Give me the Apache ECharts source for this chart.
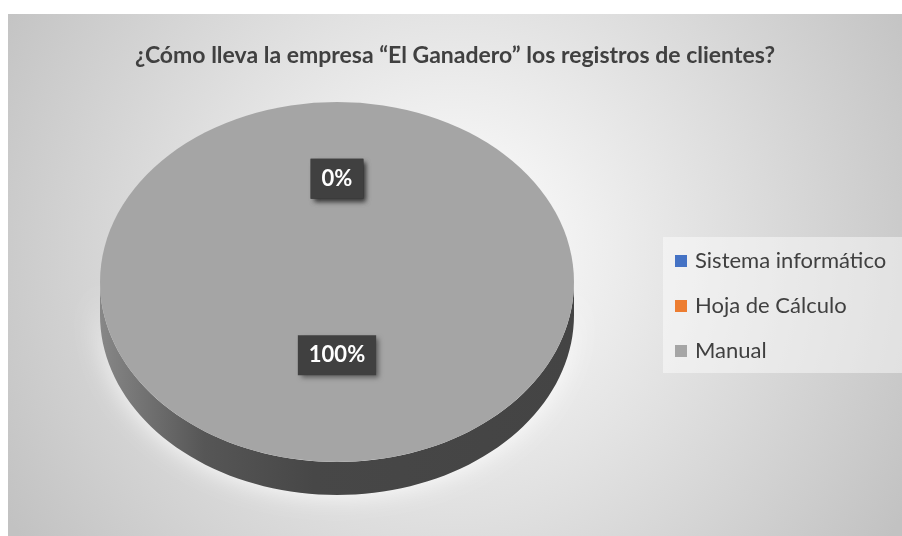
<!DOCTYPE html>
<html>
<head>
<meta charset="utf-8">
<script src="https://cdn.jsdelivr.net/npm/echarts@6/dist/echarts.min.js"></script>
<style>
  html, body { margin:0; padding:0; background:#ffffff; }
  #chart { position:absolute; left:8px; top:14px; width:894px; height:522px; }
</style>
</head>
<body>
<div id="chart"></div>
<script>
// ---- data ----
var titleText = '¿Cómo lleva la empresa “El Ganadero” los registros de clientes?';
var categories = ['Sistema informático', 'Hoja de Cálculo', 'Manual'];
var values = [0, 0, 100];
var colors = ['#4472c4', '#ed7d31', '#a5a5a5'];

// ---- layout ----
var CX = 329, CY = 268, RX = 237, RY = 180, DEPTH = 33;
var FONT = 'Lato, "Open Sans", sans-serif';

var total = values.reduce(function (a, b) { return a + b; }, 0);
var cum = [];
(function () { var s = 0; for (var i = 0; i < values.length; i++) { cum.push(s); s += values[i]; } })();

function shade(hex, f) {
  var n = parseInt(hex.slice(1), 16);
  var r = Math.round(((n >> 16) & 255) * f), g = Math.round(((n >> 8) & 255) * f), b = Math.round((n & 255) * f);
  return 'rgb(' + r + ',' + g + ',' + b + ')';
}

function makeRender(i) {
  return function (params, api) {
    var v = api.value(0);
    var a0 = -Math.PI / 2 + (cum[i] / total) * Math.PI * 2;
    var a1 = -Math.PI / 2 + ((cum[i] + v) / total) * Math.PI * 2;
    var children = [];
    var col = colors[i];
    if (a1 > a0) {
      // front side wall
      var s0 = Math.max(a0, 0), s1 = Math.min(a1, Math.PI);
      if (s1 > s0) {
        var pts = [], N = 80, k;
        for (k = 0; k <= N; k++) {
          var a = s0 + (s1 - s0) * k / N;
          pts.push([CX + RX * Math.cos(a), CY + RY * Math.sin(a)]);
        }
        for (k = N; k >= 0; k--) {
          var b = s0 + (s1 - s0) * k / N;
          pts.push([CX + RX * Math.cos(b), CY + RY * Math.sin(b) + DEPTH]);
        }
        children.push({
          type: 'polygon', z2: 1,
          shape: { points: pts },
          style: {
            fill: new echarts.graphic.LinearGradient(0, 0, 1, 0, [
              { offset: 0, color: shade(col, 0.82) },
              { offset: 0.22, color: shade(col, 0.52) },
              { offset: 0.45, color: shade(col, 0.43) },
              { offset: 1, color: shade(col, 0.41) }
            ]),
            shadowColor: 'rgba(255,255,255,0.95)', shadowBlur: 26
          }
        });
      }
      // top face
      children.push({
        type: 'sector', z2: 2,
        shape: { cx: CX, cy: CY, r0: 0, r: RX, startAngle: a0, endAngle: a1, clockwise: true },
        scaleY: RY / RX, originX: CX, originY: CY,
        style: { fill: col }
      });
    }
    // label
    var m = (a0 + a1) / 2;
    var pct = Math.round(v / total * 100) + '%';
    children.push({
      type: 'text', z2: 3 + i,
      x: CX + 0.49 * RX * Math.cos(m), y: CY + 0.49 * RY * Math.sin(m) - 15,
      style: {
        text: pct, fill: '#ffffff', font: 'bold 22px ' + FONT,
        align: 'center', verticalAlign: 'middle',
        backgroundColor: '#404040', padding: [9, 11, 9, 11],
        shadowColor: 'rgba(0,0,0,0.45)', shadowBlur: 5, shadowOffsetX: 3, shadowOffsetY: 3
      }
    });
    return { type: 'group', children: children };
  };
}

var series = categories.map(function (name, i) {
  return {
    type: 'custom', name: name, coordinateSystem: 'none',
    itemStyle: { color: colors[i] },
    data: [[values[i]]],
    renderItem: makeRender(i),
    silent: true
  };
});

var chart = echarts.init(document.getElementById('chart'));
chart.setOption({
  animation: false,
  color: colors,
  backgroundColor: new echarts.graphic.RadialGradient(0.5, 0.45, 1.0, [
    { offset: 0, color: '#ffffff' },
    { offset: 1, color: '#c2c2c2' }
  ]),
  title: {
    text: titleText, left: 'center', top: 25,
    textStyle: { fontFamily: FONT, fontWeight: 'bold', fontSize: 23, color: '#404040' }
  },
  legend: {
    orient: 'vertical', left: 655, top: 223,
    data: categories,
    icon: 'rect', itemWidth: 12, itemHeight: 12, itemGap: 23,
    backgroundColor: 'rgba(255,255,255,0.45)',
    padding: [13, 40, 11, 12],
    selectedMode: false,
    textStyle: { fontFamily: FONT, fontSize: 22, color: '#404040', lineHeight: 22, padding: [0, 0, 0, 3] }
  },
  series: series
});
</script>
</body>
</html>
